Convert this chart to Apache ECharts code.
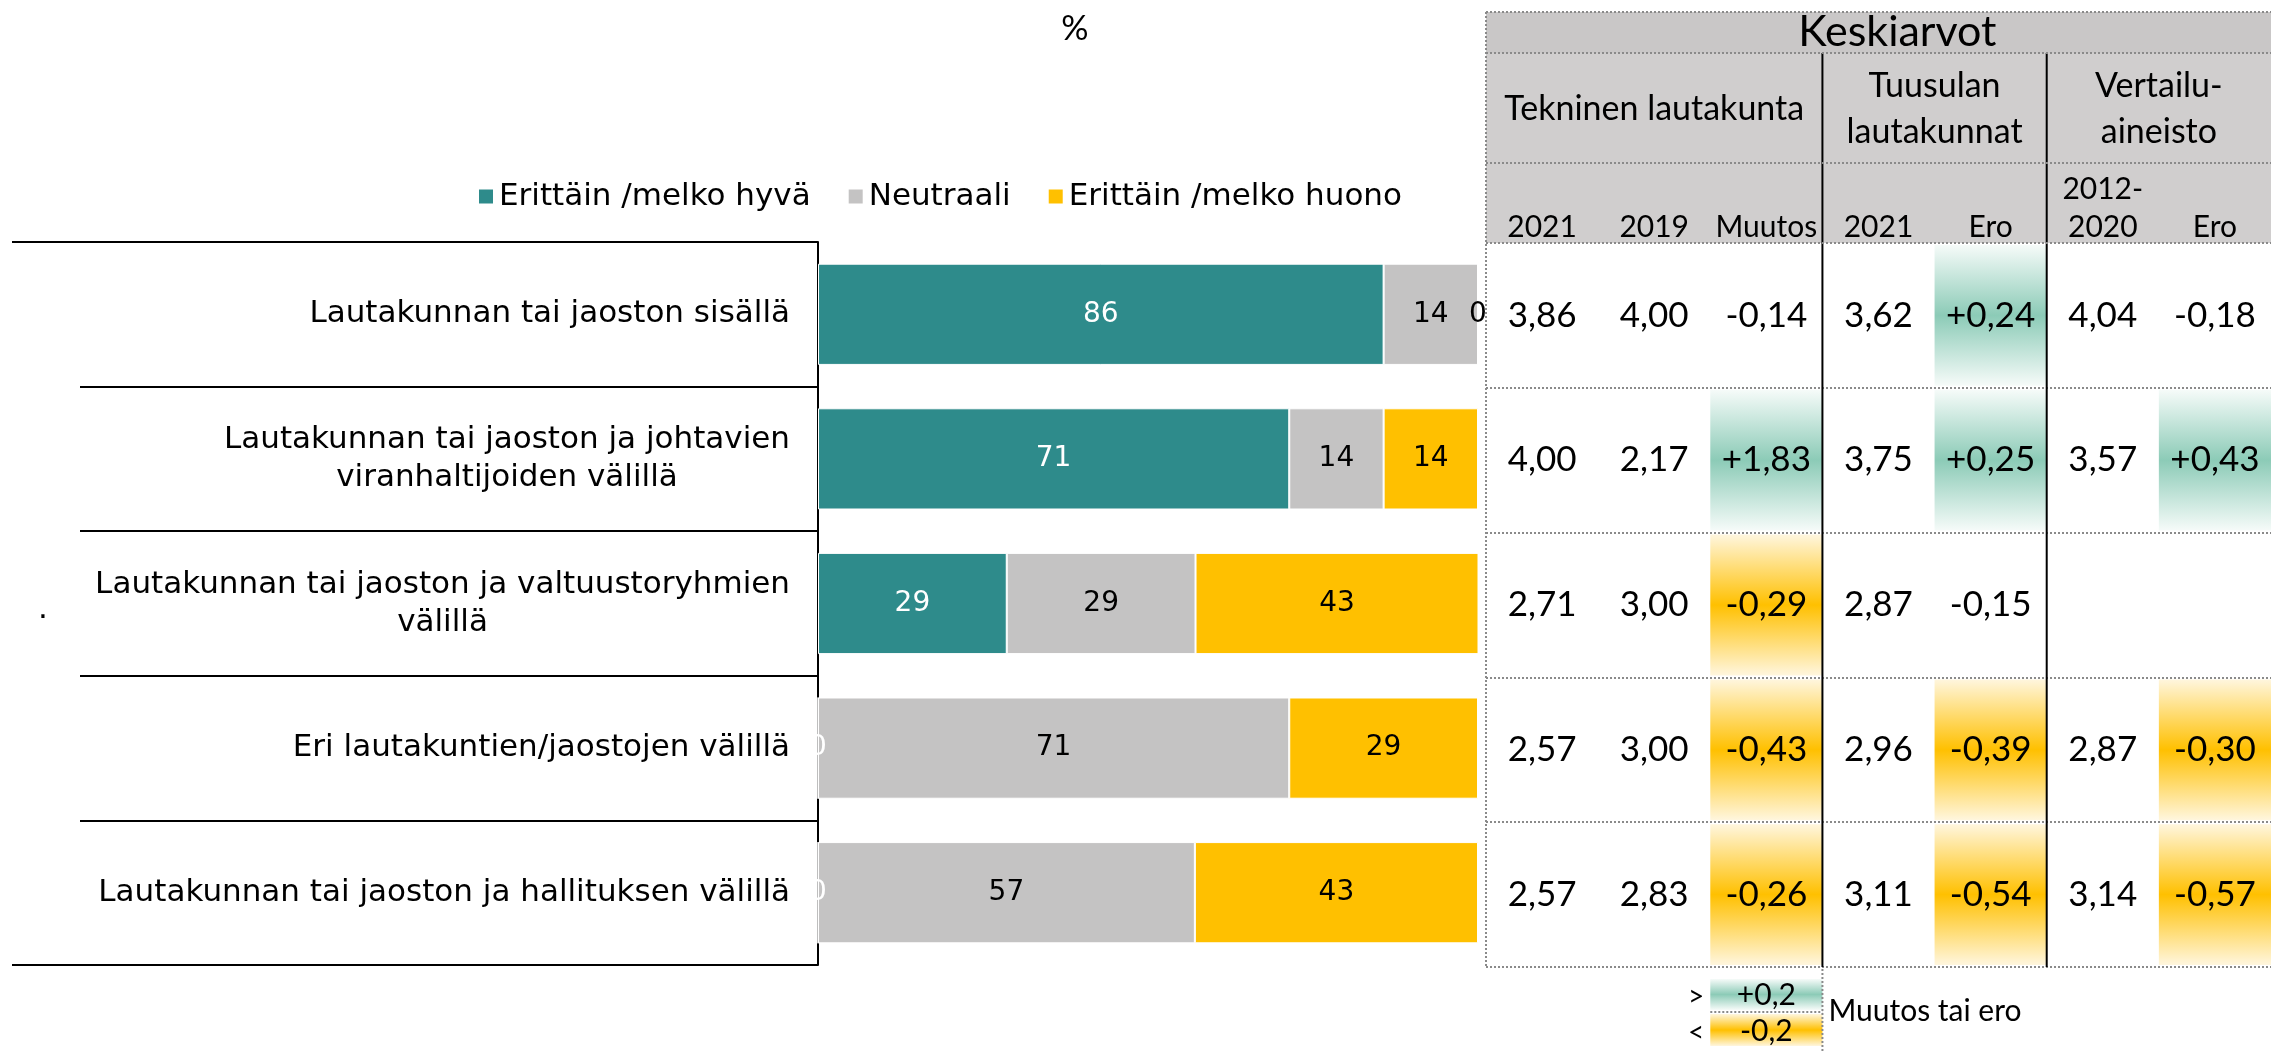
<!DOCTYPE html>
<html lang="fi">
<head>
<meta charset="utf-8">
<title>Yhteistyö</title>
<script src="https://cdn.jsdelivr.net/npm/echarts@6/dist/echarts.min.js"></script>
<style>
  html, body { margin: 0; padding: 0; background: #fff; }
  #chart { width: 2271px; height: 1052px; }
</style>
</head>
<body>
<div id="chart"></div>
<script>
// kysymykset (y-akseli)
const categories = [
    'Lautakunnan tai jaoston sisällä',
    'Lautakunnan tai jaoston ja johtavien\nviranhaltijoiden välillä',
    'Lautakunnan tai jaoston ja valtuustoryhmien\nvälillä',
    'Eri lautakuntien/jaostojen välillä',
    'Lautakunnan tai jaoston ja hallituksen välillä'
];
const seriesNames = ['Erittäin /melko hyvä', 'Neutraali', 'Erittäin /melko huono'];
// osuudet prosentteina (näytetään kokonaislukuina)
const goodValues = [85.7, 71.4, 28.6, 0, 0];
const neutralValues = [14.3, 14.3, 28.6, 71.4, 57.1];
const badValues = [0, 14.3, 42.9, 28.6, 42.9];

// keskiarvotaulukko
const tableTitle = 'Keskiarvot';
const tableGroups = ['Tekninen lautakunta', 'Tuusulan\nlautakunnat', 'Vertailu-\naineisto'];
const groupSpans = [3, 2, 2];
const tableColumns = ['2021', '2019', 'Muutos', '2021', 'Ero', '2012-\n2020', 'Ero'];
const tekninen2021 = [3.86, 4.00, 2.71, 2.57, 2.57];
const tekninen2019 = [4.00, 2.17, 3.00, 3.00, 2.83];
const tekninenMuutos = [-0.14, 1.83, -0.29, -0.43, -0.26];
const tuusulan2021 = [3.62, 3.75, 2.87, 2.96, 3.11];
const tuusulanEro = [0.24, 0.25, -0.15, -0.39, -0.54];
const vertailu = [4.04, 3.57, null, 2.87, 3.14];
const vertailuEro = [-0.18, 0.43, null, -0.30, -0.57];
const diffColumns = [2, 4, 6];
const diffLimit = 0.2;
const limitLabel = 'Muutos tai ero';

const tableData = [tekninen2021, tekninen2019, tekninenMuutos, tuusulan2021, tuusulanEro, vertailu, vertailuEro];

const colorGood = '#2e8b8b';
const colorNeutral = '#c4c3c3';
const colorBad = '#ffc000';
const labelFont = 'DejaVu Sans';
const tableFont = 'Lato';

function fmt(v, isDiff) {
    if (v === null || v === undefined) return '';
    const s = Math.abs(v).toFixed(2).replace('.', ',');
    if (!isDiff) return s;
    return (v > 0 ? '+' : '-') + s;
}

function greenFill() {
    return new echarts.graphic.LinearGradient(0, 0, 0, 1, [
        { offset: 0, color: '#f6fbf9' },
        { offset: 0.5, color: '#8ccbb7' },
        { offset: 1, color: '#f6fbf9' }
    ]);
}
function yellowFill() {
    return new echarts.graphic.LinearGradient(0, 0, 0, 1, [
        { offset: 0, color: '#fff6de' },
        { offset: 0.5, color: '#ffc000' },
        { offset: 1, color: '#fff6de' }
    ]);
}

let chart = null;

function renderCell(params, api) {
    const c = api.value(0);
    const r = api.value(1);
    const center = api.coord([c, r]);
    const size = api.size([1, 1]);
    const v = tableData[c][r];
    const isDiff = diffColumns.indexOf(c) >= 0;
    const children = [];
    let fill = null;
    if (isDiff && v !== null && v > diffLimit) fill = greenFill();
    if (isDiff && v !== null && v < -diffLimit) fill = yellowFill();
    if (fill) {
        children.push({
            type: 'rect',
            shape: { x: center[0] - size[0] / 2, y: center[1] - size[1] / 2 + 2, width: size[0], height: size[1] - 4 },
            style: { fill: fill }
        });
    }
    children.push({
        type: 'text',
        style: {
            text: fmt(v, isDiff), x: center[0], y: center[1],
            align: 'center', verticalAlign: 'middle',
            fontFamily: tableFont, fontSize: 35, fill: '#000'
        }
    });
    return { type: 'group', children: children };
}

function renderChart() {
    chart = echarts.init(document.getElementById('chart'));

    const cells = [];
    tableColumns.forEach((col, c) => {
        categories.forEach((cat, r) => cells.push([c, r]));
    });

    const barLabel = (color) => ({
        show: true, position: 'inside', color: color,
        fontFamily: labelFont, fontSize: 28,
        formatter: (p) => Math.round(p.value)
    });

    const option = {
        animation: false,
        legend: {
            data: seriesNames,
            left: 472, top: 176,
            icon: 'rect', itemWidth: 16, itemHeight: 16, itemGap: 36,
            textStyle: { fontFamily: labelFont, fontSize: 31, color: '#000' }
        },
        grid: [
            { left: 818, right: 793, top: 242, bottom: 87, outerBoundsMode: 'none' },
            { left: 1486, right: 0, top: 243, bottom: 85, outerBoundsMode: 'none' }
        ],
        xAxis: [
            { type: 'value', gridIndex: 0, min: 0, max: 100, show: false },
            { type: 'category', gridIndex: 1, data: tableColumns, show: false }
        ],
        yAxis: [
            {
                type: 'category', gridIndex: 0, position: 'left', data: categories, inverse: true,
                axisLine: { show: true, lineStyle: { color: '#000', width: 2 } },
                axisTick: { show: true, interval: 0, length: 738, lineStyle: { color: '#000', width: 2 } },
                axisLabel: {
                    interval: 0, margin: 28, align: 'right',
                    formatter: (v) => v.split('\n').map(l => '{c|' + l + '}').join('\n'),
                    rich: { c: { align: 'center', fontFamily: labelFont, fontSize: 31, lineHeight: 38, color: '#000' } }
                },
                splitLine: { show: false }
            },
            {
                // pitkät viivat ylä- ja alareunassa
                type: 'value', gridIndex: 0, position: 'left', offset: 0,
                min: 0, max: 5, interval: 5, inverse: true,
                axisLine: { show: false },
                axisTick: { show: true, length: 806, lineStyle: { color: '#000', width: 2 } },
                axisLabel: { show: false },
                splitLine: { show: false }
            },
            {
                type: 'category', gridIndex: 1, data: categories, inverse: true,
                axisLine: { show: false }, axisTick: { show: false }, axisLabel: { show: false },
                splitLine: { show: true, interval: 0, lineStyle: { color: '#8a8a8a', width: 2, type: [2, 2] } }
            }
        ],
        series: [
            {
                name: seriesNames[0], type: 'bar', stack: 'total', xAxisIndex: 0, yAxisIndex: 0,
                barWidth: '70%', data: goodValues,
                itemStyle: { color: colorGood, borderColor: '#fff', borderWidth: 1 },
                label: barLabel('#fff')
            },
            {
                name: seriesNames[1], type: 'bar', stack: 'total', xAxisIndex: 0, yAxisIndex: 0,
                barWidth: '70%', data: neutralValues,
                itemStyle: { color: colorNeutral, borderColor: '#fff', borderWidth: 1 },
                label: barLabel('#000')
            },
            {
                name: seriesNames[2], type: 'bar', stack: 'total', xAxisIndex: 0, yAxisIndex: 0,
                barWidth: '70%', data: badValues,
                itemStyle: { color: colorBad, borderColor: '#fff', borderWidth: 1 },
                label: barLabel('#000')
            },
            {
                type: 'custom', coordinateSystem: 'cartesian2d', xAxisIndex: 1, yAxisIndex: 2,
                data: cells, renderItem: renderCell, z: 5, silent: true
            }
        ]
    };
    chart.setOption(option);

    // taulukon otsikot ja viivat akselin mukaan
    const colCenter = (i) => chart.convertToPixel({ xAxisIndex: 1 }, i);
    const bandW = colCenter(1) - colCenter(0);
    const colEdge = (i) => colCenter(0) - bandW / 2 + i * bandW;
    const rowCenter = (i) => chart.convertToPixel({ yAxisIndex: 2 }, i);
    const bandH = rowCenter(1) - rowCenter(0);
    const tableLeft = colEdge(0);
    const tableRight = colEdge(tableColumns.length);
    const tableTop = rowCenter(0) - bandH / 2;
    const tableBottom = rowCenter(categories.length - 1) + bandH / 2;
    const h0 = 12, h1 = 53, h2 = 163;

    const dotted = { stroke: '#8a8a8a', lineWidth: 2, lineDash: [2, 2] };
    const solid = { stroke: '#000', lineWidth: 2 };
    const g = [];
    const line = (x1, y1, x2, y2, style) => g.push({
        type: 'line', z: 10, z2: 1, silent: true,
        shape: { x1: x1, y1: y1, x2: x2, y2: y2 }, style: style
    });
    const text = (t, x, y, size, extra) => g.push({
        type: 'text', z: 10, z2: 2, silent: true, x: x, y: y,
        style: Object.assign({ text: t, fontFamily: tableFont, fontSize: size, fill: '#000',
            align: 'center', verticalAlign: 'middle' }, extra || {})
    });

    g.push({ type: 'rect', z: 10, z2: 0, silent: true,
        shape: { x: tableLeft, y: h0, width: tableRight - tableLeft, height: h1 - h0 },
        style: { fill: '#c9c7c7' } });
    g.push({ type: 'rect', z: 10, z2: 0, silent: true,
        shape: { x: tableLeft, y: h1, width: tableRight - tableLeft, height: tableTop - h1 },
        style: { fill: '#d0cece' } });

    text(tableTitle, tableLeft + (tableRight - tableLeft) * 0.524, (h0 + h1) / 2, 43);
    let start = 0;
    tableGroups.forEach((name, i) => {
        const end = start + groupSpans[i];
        text(name, (colEdge(start) + colEdge(end)) / 2, (h1 + h2) / 2 + 1, 34, { lineHeight: 46 });
        if (i > 0) line(colEdge(start), h1, colEdge(start), tableBottom, solid);
        start = end;
    });
    tableColumns.forEach((name, c) => {
        text(name, colCenter(c), tableTop + 3, 30, { verticalAlign: 'bottom', lineHeight: 38 });
    });

    [h0, h1, h2, tableTop].forEach(y => line(tableLeft, y, tableRight, y, dotted));
    line(tableLeft, h0, tableLeft, tableBottom, dotted);

    // selite värirajoille
    const bx = colEdge(2), bw = bandW;
    g.push({ type: 'rect', z: 10, z2: 0, silent: true,
        shape: { x: bx, y: tableBottom + 12, width: bw, height: 31 }, style: { fill: greenFill() } });
    g.push({ type: 'rect', z: 10, z2: 0, silent: true,
        shape: { x: bx, y: tableBottom + 47, width: bw, height: 32 }, style: { fill: yellowFill() } });
    line(bx, tableBottom + 45, bx + bw, tableBottom + 45, dotted);
    line(bx + bw, tableBottom + 2, bx + bw, 1052, dotted);
    text('+' + fmt(diffLimit).replace(/0$/, ''), bx + bw / 2, tableBottom + 28, 30);
    text('-' + fmt(diffLimit).replace(/0$/, ''), bx + bw / 2, tableBottom + 64, 30);
    text('>', bx - 6, tableBottom + 30, 28, { align: 'right' });
    text('<', bx - 6, tableBottom + 66, 28, { align: 'right' });
    text(limitLabel, bx + bw + 6, tableBottom + 44, 30, { align: 'left' });

    // otsikko ja irrallinen piste
    text('%', 1075, 29, 34);
    text('.', 43, 610, 31, { fontFamily: labelFont });

    chart.setOption({ graphic: g });
}

document.addEventListener('DOMContentLoaded', () => {
    renderChart();
});
</script>
</body>
</html>
